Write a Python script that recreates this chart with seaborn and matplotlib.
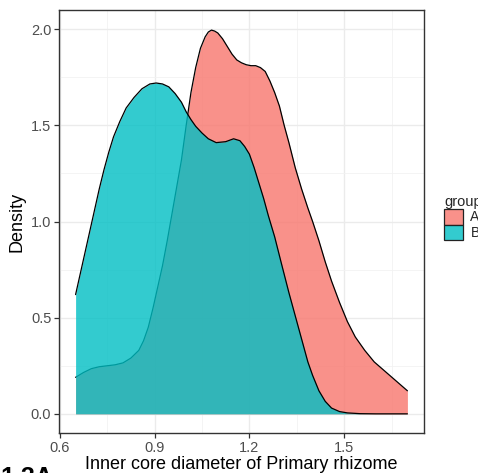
import numpy as np
import pandas as pd
import matplotlib
matplotlib.use("Agg")
import matplotlib.pyplot as plt
from matplotlib.patches import Patch
from matplotlib.ticker import MultipleLocator
import seaborn as sns

# ---- data (density curves) ----
x_a = [0.65, 0.675, 0.70, 0.725, 0.75, 0.775, 0.80, 0.825, 0.85, 0.865, 0.88, 0.895,
       0.91, 0.925, 0.94, 0.955, 0.97, 0.985, 1.00, 1.015, 1.03, 1.045, 1.06, 1.07,
       1.08, 1.09, 1.10, 1.115, 1.13, 1.145, 1.16, 1.175, 1.19, 1.205, 1.22, 1.235,
       1.25, 1.265, 1.28, 1.295, 1.31, 1.325, 1.345, 1.365, 1.385, 1.40, 1.42, 1.44,
       1.46, 1.485, 1.51, 1.535, 1.565, 1.595, 1.63, 1.665, 1.70]
dens_a = [0.19, 0.215, 0.235, 0.245, 0.25, 0.255, 0.265, 0.29, 0.33, 0.38, 0.45, 0.55,
          0.66, 0.77, 0.90, 1.04, 1.18, 1.32, 1.50, 1.67, 1.80, 1.90, 1.96, 1.985,
          1.995, 1.99, 1.98, 1.95, 1.91, 1.87, 1.84, 1.825, 1.815, 1.81, 1.81, 1.80,
          1.78, 1.73, 1.67, 1.60, 1.50, 1.41, 1.28, 1.17, 1.07, 1.00, 0.90, 0.79,
          0.69, 0.58, 0.48, 0.40, 0.33, 0.27, 0.22, 0.17, 0.12]

x_b = [0.65, 0.665, 0.68, 0.695, 0.71, 0.725, 0.74, 0.755, 0.77, 0.79, 0.81, 0.835,
       0.86, 0.885, 0.905, 0.925, 0.945, 0.965, 0.985, 1.00, 1.015, 1.03, 1.05, 1.07,
       1.095, 1.125, 1.15, 1.17, 1.185, 1.20, 1.215, 1.23, 1.245, 1.26, 1.28, 1.30,
       1.325, 1.34, 1.355, 1.37, 1.385, 1.40, 1.42, 1.44, 1.46, 1.485, 1.51, 1.55,
       1.60, 1.70]
dens_b = [0.62, 0.73, 0.84, 0.95, 1.06, 1.17, 1.27, 1.36, 1.44, 1.52, 1.59, 1.645,
          1.69, 1.715, 1.72, 1.715, 1.70, 1.665, 1.62, 1.57, 1.53, 1.495, 1.46, 1.43,
          1.41, 1.415, 1.43, 1.42, 1.39, 1.35, 1.28, 1.20, 1.12, 1.03, 0.92, 0.79,
          0.63, 0.54, 0.45, 0.36, 0.27, 0.20, 0.12, 0.065, 0.03, 0.012, 0.005, 0.001,
          0.0, 0.0]

groups = ["A", "B"]
colors = {"A": "#F8766D", "B": "#00BFC4"}
x_ticks = [0.6, 0.9, 1.2, 1.5]
y_ticks = [0.0, 0.5, 1.0, 1.5, 2.0]

df = pd.concat([
    pd.DataFrame({"x": x_a, "density": dens_a, "group": "A"}),
    pd.DataFrame({"x": x_b, "density": dens_b, "group": "B"}),
], ignore_index=True)

sns.set_style("ticks")
plt.rcParams["font.family"] = ["Liberation Sans", "DejaVu Sans"]

W, H = 478, 473
fig = plt.figure(figsize=(W / 100, H / 100), dpi=100)
ax = fig.add_axes([59 / W, 1 - 433 / H, (424 - 59) / W, (433 - 10) / H])

z = 2
for g in groups:
    sub = df[df["group"] == g]
    ax.fill_between(sub["x"], 0, sub["density"], color=colors[g], alpha=0.8,
                    linewidth=0, zorder=z)
    sns.lineplot(data=sub, x="x", y="density", ax=ax, color="black",
                 linewidth=0.9, sort=False, estimator=None, zorder=z + 1)
    z += 2
for line in ax.lines:
    line.set_solid_joinstyle("round")

ax.set_xlim(0.5975, 1.7525)
ax.set_ylim(-0.0995, 2.0995)
ax.set_xticks(x_ticks)
ax.set_xticklabels([f"{v:.1f}" for v in x_ticks])
ax.set_yticks(y_ticks)
ax.set_yticklabels([f"{v:.1f}" for v in y_ticks])
ax.xaxis.set_minor_locator(MultipleLocator(0.15))
ax.yaxis.set_minor_locator(MultipleLocator(0.25))

ax.grid(which="major", color="#EBEBEB", linewidth=1.0, zorder=0)
ax.grid(which="minor", color="#F2F2F2", linewidth=0.6, zorder=0)
ax.set_axisbelow(True)

for s in ax.spines.values():
    s.set_color("#333333")
    s.set_linewidth(1.0)
    s.set_visible(True)
    s.set_zorder(10)

ax.tick_params(axis="both", which="major", length=3.5, width=0.9, color="#333333",
               labelcolor="#4D4D4D", labelsize=10.5, pad=2)
ax.tick_params(axis="both", which="minor", length=0)

ax.set_xlabel("Inner core diameter of Primary rhizome", fontsize=13, color="black",
              labelpad=1)
ax.set_ylabel("Density", fontsize=13, color="black", labelpad=4)

handles = [Patch(facecolor=matplotlib.colors.to_rgba(colors[g], 0.8),
                 edgecolor="#222222", linewidth=0.9) for g in groups]
leg = fig.legend(handles, groups, title="group", loc="upper left",
                 bbox_to_anchor=(444 / W, 1 - 195 / H), frameon=False,
                 fontsize=10, title_fontsize=10.5, borderpad=0, borderaxespad=0,
                 handlelength=1.35, handleheight=1.35, labelspacing=0.0,
                 handletextpad=0.55, alignment="left")

fig.text(0.0, 1 - 466 / H, "1.3A", fontsize=18, fontweight="bold", va="top",
         ha="left", color="black")

fig.savefig("out.png", dpi=100)
